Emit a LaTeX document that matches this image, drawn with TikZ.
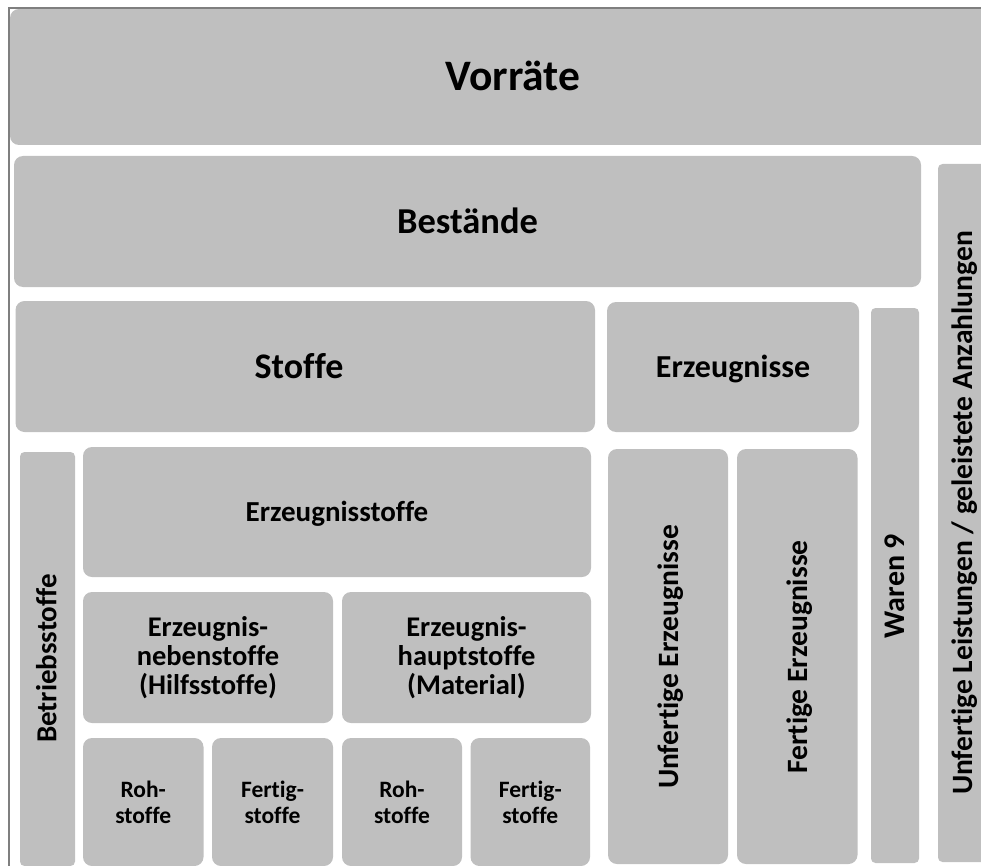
\documentclass[tikz,border=0pt]{standalone}
\usepackage{fontspec}
\setmainfont{Carlito}[Ligatures={NoCommon,NoContextual}]
\definecolor{boxgray}{HTML}{BFBFBF}
\definecolor{framegray}{HTML}{7F7F7F}
\tikzset{
  blk/.style={fill=boxgray, draw=none, rounded corners=9pt, inner sep=0pt,
    align=center, font=\bfseries, text=black},
  thinblk/.style={blk, rounded corners=4.5pt},
  lbl/.style={inner sep=0pt, align=center, text=black},
  % font size and line pitch in pt
  fs/.style 2 args={font=\fontsize{#1pt}{#2pt}\selectfont\bfseries},
  % one-line labels: capitals (height given in pt) centred in the box
  capc/.style={text height=#1pt, text depth=0pt},
}
\begin{document}
\begin{tikzpicture}[x=1pt, y=-1pt]
\useasboundingbox (0,0) rectangle (981,866);
\clip (0,0) rectangle (981,866);

% top levels
\node[blk, fs={43.5}{50}, capc=28, minimum width=1006, minimum height=136] (vorraete) at (513,77) {Vorräte};
\node[blk, fs={36.5}{42}, capc=23.5, minimum width=907, minimum height=131] (bestaende) at (467.5,221.5) {Bestände};

% second level
\node[blk, minimum width=579.5, minimum height=131] (stoffe) at (305.25,366.5) {};
\node[lbl, fs={36}{42}, capc=23.2] (stoffetext) at (299,366.5) {Stoffe};
\node[blk, fs={32}{38}, capc=20.6, minimum width=252, minimum height=130] (erzeugnisse) at (733,367) {Erzeugnisse};

% narrow vertical columns
\node[thinblk, minimum width=48, minimum height=555] (waren) at (895,585.5) {};
\node[lbl, fs={30}{36}, capc=19.3, rotate=90] (warentext) at (895,586) {Waren 9};
\node[thinblk, minimum width=50, minimum height=698] (unfleist) at (963,513) {};
\node[lbl, fs={29.5}{36}, capc=19, rotate=90] (unfleisttext) at (963,513) {Unfertige Leistungen / geleistete Anzahlungen};
\node[thinblk, minimum width=55, minimum height=414] (betrieb) at (47.5,659) {};
\node[lbl, fs={29}{36}, capc=18.7, rotate=90] (betriebtext) at (47,658.5) {Betriebsstoffe};

% materials
\node[blk, fs={29}{36}, capc=18.7, minimum width=508, minimum height=130] (erzstoffe) at (337,512) {Erzeugnisstoffe};
\node[blk, fs={28.5}{29}, minimum width=250, minimum height=131] (neben) at (208,657.5) {Erzeugnis-\\nebenstoffe\\(Hilfsstoffe)};
\node[blk, fs={28.5}{29}, minimum width=249, minimum height=131] (haupt) at (466.5,657.5) {Erzeugnis-\\hauptstoffe\\(Material)};

\node[blk, fs={23.5}{26}, minimum width=120.5, minimum height=128] (roh1) at (143.25,802) {Roh-\\stoffe};
\node[blk, fs={23.5}{26}, minimum width=121, minimum height=128] (fertig1) at (272.5,802) {Fertig-\\stoffe};
\node[blk, fs={23.5}{26}, minimum width=120, minimum height=128] (roh2) at (402,802) {Roh-\\stoffe};
\node[blk, fs={23.5}{26}, minimum width=119.5, minimum height=128] (fertig2) at (530.25,802) {Fertig-\\stoffe};

% products
\node[blk, minimum width=120, minimum height=415] (unferz) at (668,656.5) {};
\node[lbl, fs={29.5}{36}, capc=19, rotate=90] (unferztext) at (669,657) {Unfertige Erzeugnisse};
\node[blk, minimum width=120.5, minimum height=415] (ferterz) at (797.25,656.5) {};
\node[lbl, fs={29.5}{36}, capc=19, rotate=90] (ferterztext) at (797.5,657) {Fertige Erzeugnisse};

% outer frame
\draw[framegray, line width=1.6pt] (9,866) -- (9,8.3) -- (981,8.3);
\end{tikzpicture}
\end{document}
